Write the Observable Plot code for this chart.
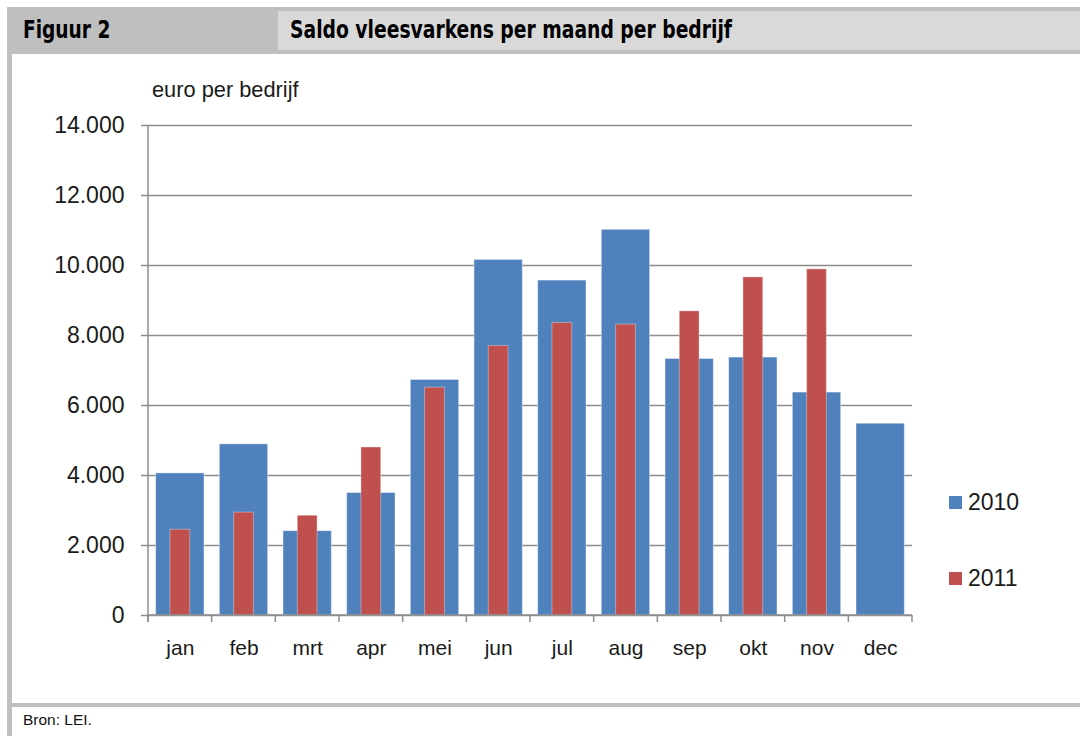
<!DOCTYPE html>
<html>
<head>
<meta charset="utf-8">
<script src="https://cdn.jsdelivr.net/npm/d3@7"></script>
<script src="https://cdn.jsdelivr.net/npm/@observablehq/plot@0.6"></script>
<style>
  html, body { margin: 0; padding: 0; background: #fff; }
  #page { position: relative; width: 1080px; height: 736px; overflow: hidden; background: #fff; font-family: "Liberation Sans", Arial, sans-serif; }
  .abs { position: absolute; }
  .hdr { font-family: "Liberation Sans Narrow", "Arial Narrow", "DejaVu Sans Condensed", sans-serif; font-weight: bold; color: #000; white-space: nowrap; transform-origin: left top; }
  #chart { position: absolute; left: 0; top: 54px; }
  #chart svg { background: transparent !important; }
</style>
</head>
<body>
<div id="page">
  <div class="abs" style="left:7px; top:7px; width:1073px; height:47px; background:#bfbfbf;"></div>
  <div class="abs" style="left:278px; top:11px; width:802px; height:39px; background:#d9d9d9;"></div>
  <div class="abs hdr" style="left:23px; top:16px; font-size:24px; line-height:28px; transform:scaleX(0.86);">Figuur 2</div>
  <div class="abs hdr" style="left:290px; top:16px; font-size:24px; line-height:28px; transform:scaleX(0.868);">Saldo vleesvarkens per maand per bedrijf</div>
  <div id="chart"></div>
  <div class="abs" style="left:7px; top:54px; width:5px; height:682px; background:#bfbfbf;"></div>
  <div class="abs" style="left:7px; top:703px; width:1073px; height:4px; background:#bfbfbf;"></div>
  <div class="abs" style="left:23px; top:710px; font-size:15.5px; line-height:19px; color:#111;">Bron: LEI.</div>
  <div class="abs" style="left:152px; top:78px; font-size:21.8px; line-height:24px; color:#1a1a1a;">euro per bedrijf</div>
  <div id="legend"></div>
</div>
<script>
const months = ["jan", "feb", "mrt", "apr", "mei", "jun", "jul", "aug", "sep", "okt", "nov", "dec"];
const series = ["2010", "2011"];
const colors = ["#4f81bd", "#c0504d"];
const values2010 = [4060, 4890, 2410, 3500, 6730, 10160, 9570, 11020, 7330, 7370, 6370, 5480];
const values2011 = [2450, 2940, 2850, 4800, 6510, 7700, 8360, 8310, 8690, 9660, 9890, null];
const yTicks = [0, 2000, 4000, 6000, 8000, 10000, 12000, 14000];

const data2010 = months.map((m, i) => ({month: m, value: values2010[i]}));
const data2011 = months.map((m, i) => ({month: m, value: values2011[i]})).filter(d => d.value != null);

const fmt = d => d3.format(",")(d).replace(/,/g, ".");
const gray = "#8c8c8c";

function axisLines(index, scales) {
  const x = scales.x, y = scales.y;
  const bw = x.bandwidth ? x.bandwidth() : 0;
  const step = x(months[1]) - x(months[0]);
  const pad = (step - bw) / 2;
  const y0 = y(0), yTop = y(yTicks[yTicks.length - 1]);
  const left = x(months[0]) - pad;
  const right = x(months[months.length - 1]) + bw + pad;
  const g = d3.create("svg:g").attr("stroke", gray).attr("stroke-width", 1.5);
  g.append("line").attr("x1", left).attr("x2", left).attr("y1", yTop).attr("y2", y0 + 7);
  g.append("line").attr("x1", left).attr("x2", right).attr("y1", y0).attr("y2", y0);
  const bounds = months.map(m => x(m) - pad).concat([right]);
  for (const b of bounds) {
    g.append("line").attr("x1", b).attr("x2", b).attr("y1", y0).attr("y2", y0 + 7);
  }
  return g.node();
}

const plot = Plot.plot({
  width: 1080,
  height: 640,
  marginLeft: 148,
  marginRight: 168,
  marginTop: 71,
  marginBottom: 79,
  style: {fontFamily: "'Liberation Sans', Arial, sans-serif", color: "#1a1a1a", background: "transparent"},
  x: {domain: months, paddingInner: 0.24, paddingOuter: 0.12, round: false},
  y: {domain: [0, 14000]},
  marks: [
    Plot.gridY(yTicks, {stroke: gray, strokeOpacity: 1, strokeWidth: 1.5}),
    Plot.barY(data2010, {x: "month", y: "value", fill: colors[0], stroke: "#ffffff", strokeOpacity: 0.45, strokeWidth: 1}),
    Plot.barY(data2011, {x: "month", y: "value", fill: colors[1], stroke: "#ffffff", strokeOpacity: 0.35, strokeWidth: 1, insetLeft: 14.3, insetRight: 14.3}),
    axisLines,
    Plot.axisY(yTicks, {tickFormat: fmt, tickSize: 7, tickPadding: 17, stroke: gray, strokeWidth: 1.5, strokeOpacity: 1, fontSize: 23, label: null, fill: "#1a1a1a"}),
    Plot.axisX(months, {tickSize: 0, tickPadding: 25, fontSize: 21, label: null, fill: "#1a1a1a"})
  ]
});
document.getElementById("chart").appendChild(plot);

const legend = document.getElementById("legend");
const legendTops = [496, 572];
series.forEach((s, i) => {
  const sw = document.createElement("div");
  sw.className = "abs";
  sw.style.cssText = `left:949px; top:${legendTops[i]}px; width:13px; height:13px; background:${colors[i]};`;
  legend.appendChild(sw);
  const t = document.createElement("div");
  t.className = "abs";
  t.style.cssText = `left:968px; top:${legendTops[i] - 7}px; font-size:23px; line-height:26px; color:#1a1a1a;`;
  t.textContent = s;
  legend.appendChild(t);
});
</script>
</body>
</html>
